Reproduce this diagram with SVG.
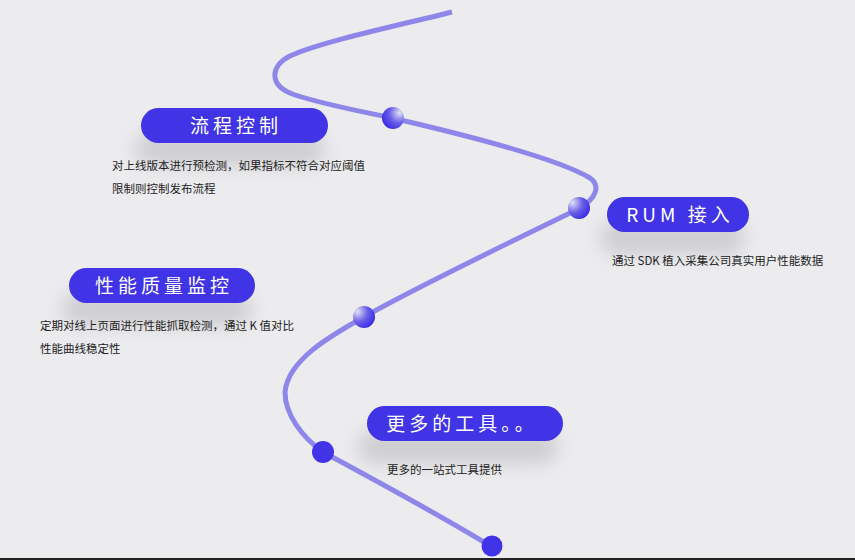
<svg xmlns="http://www.w3.org/2000/svg" width="855" height="560" viewBox="0 0 855 560">
<defs>
<style>
.pill{fill:#4133e6}
.pt{font-family:"Noto Sans CJK SC","Noto Sans",sans-serif;font-size:19px;fill:#ffffff;text-anchor:middle;letter-spacing:4px}
.desc{font-family:"Noto Sans CJK SC","Liberation Sans",sans-serif;font-size:11.5px;fill:#222222}
.line{fill:none;stroke:#8f86e9;stroke-width:5;stroke-linecap:butt}
.dot{fill:#4133e6}
.shadow{fill:#9a9aa0;opacity:0.35;filter:url(#blur)}
</style>
<filter id="blur" x="-30%" y="-80%" width="160%" height="260%"><feGaussianBlur stdDeviation="9"/></filter>
<radialGradient id="gTR" cx="0.75" cy="0.3" r="0.8" fx="0.8" fy="0.25"><stop offset="0" stop-color="#e4e3f3"/><stop offset="0.55" stop-color="#6a5fe8"/><stop offset="1" stop-color="#3a2ce4"/></radialGradient>
<radialGradient id="gTL" cx="0.25" cy="0.3" r="0.8" fx="0.2" fy="0.25"><stop offset="0" stop-color="#e4e3f3"/><stop offset="0.55" stop-color="#6a5fe8"/><stop offset="1" stop-color="#3a2ce4"/></radialGradient>
</defs>
<rect width="855" height="560" fill="#ececee"/>
<rect x="0" y="558" width="855" height="2" fill="#222222"/>
<g id="connectors">
<path class="line" d="M452,12 C400,25 320,42 290,56 C270,66 268,86 295,95 C330,106 360,111 392,118 C470,136 560,160 590,178 C600,185 598,198 578,209 C540,228 420,285 364,317 C330,336 288,360 285,392 C285,415 303,438 323,452 C380,483 440,515 492,547"/>
<circle cx="393" cy="118" r="11" fill="url(#gTR)"/>
<circle cx="579" cy="208" r="11" fill="url(#gTL)"/>
<circle cx="364" cy="317" r="11" fill="url(#gTL)"/>
<circle class="dot" cx="323" cy="452" r="11"/>
<circle class="dot" cx="492" cy="546" r="10.5"/>
</g>
<g id="node-flow-control">
<rect class="shadow" x="135" y="132" width="190" height="34" rx="17"/>
<rect class="pill" x="141" y="108" width="187" height="35" rx="17.5"/>
<text class="pt" x="236" y="132.5">流程控制</text>
<text class="desc" x="112" y="170">对上线版本进行预检测，如果指标不符合对应阈值</text>
<text class="desc" x="112" y="193">限制则控制发布流程</text>
</g>
<g id="node-rum">
<rect class="shadow" x="600" y="221" width="145" height="34" rx="17"/>
<rect class="pill" x="607" y="197" width="142" height="35" rx="17.5"/>
<text class="pt" x="680" y="221.5">RUM 接入</text>
<text class="desc" x="612" y="265">通过 SDK 植入采集公司真实用户性能数据</text>
</g>
<g id="node-perf">
<rect class="shadow" x="62" y="292" width="190" height="34" rx="17"/>
<rect class="pill" x="69" y="268" width="186" height="35" rx="17.5"/>
<text class="pt" x="164" y="292.5">性能质量监控</text>
<text class="desc" x="40" y="330">定期对线上页面进行性能抓取检测，通过 K 值对比</text>
<text class="desc" x="40" y="353">性能曲线稳定性</text>
</g>
<g id="node-more">
<rect class="shadow" x="358" y="430" width="200" height="34" rx="17"/>
<rect class="pill" x="367" y="406" width="196" height="35" rx="17.5"/>
<text class="pt" x="462" y="430.5">更多的工具。。</text>
<text class="desc" x="387" y="474">更多的一站式工具提供</text>
</g>
</svg>
